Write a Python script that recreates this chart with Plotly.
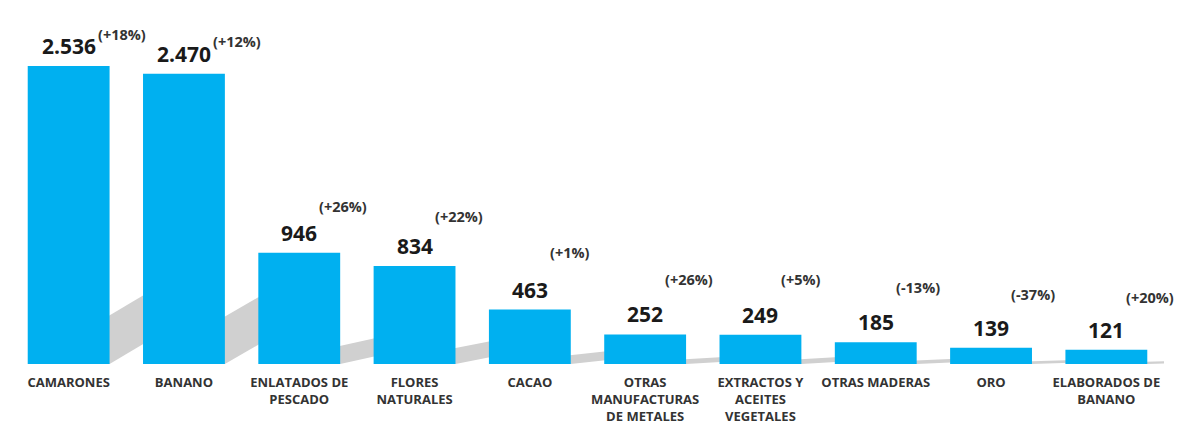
import plotly.graph_objects as go

# ---- data ----
categories = [
    "CAMARONES", "BANANO", "ENLATADOS DE<br>PESCADO", "FLORES<br>NATURALES", "CACAO",
    "OTRAS<br>MANUFACTURAS<br>DE METALES", "EXTRACTOS Y<br>ACEITES<br>VEGETALES",
    "OTRAS MADERAS", "ORO", "ELABORADOS DE<br>BANANO",
]
values = [2536, 2470, 946, 834, 463, 252, 249, 185, 139, 121]
changes = [18, 12, 26, 22, 1, 26, 5, -13, -37, 20]

# ---- styles ----
BAR_COLOR = "#00B0F0"
SHADOW_COLOR = "#d0d0d0"
PCT_RAISE = [32, 32, 46, 50, 57, 55, 55, 55, 53, 52]   # px above bar top
BARGAP = 0.29
SHADOW_K = 0.23

def fmt(v):
    return f"{v:,}".replace(",", ".")

def text_half_width(s):
    w = 0
    for ch in s:
        w += 5.0 if ch == "." else 12.7
    return w / 2

xs = list(range(len(values)))
half = (1 - BARGAP) / 2

fig = go.Figure()
fig.add_trace(go.Bar(
    x=xs, y=values, marker=dict(color=BAR_COLOR, line=dict(width=0)),
    hoverinfo="skip",
))

shapes = []
for i, v in zip(xs, values):
    h = SHADOW_K * v
    path = (f"M {i-half},0 L {i+half},0 L {i+1+half},{h} "
            f"L {i+1-half},{h} Z")
    shapes.append(dict(type="path", path=path, xref="x", yref="y",
                       fillcolor=SHADOW_COLOR, line=dict(width=0), layer="below"))

annotations = []
for i, (v, c, r) in enumerate(zip(values, changes, PCT_RAISE)):
    lab = fmt(v)
    annotations.append(dict(
        x=i, y=v, xref="x", yref="y", text=f"<b>{lab}</b>", showarrow=False,
        xanchor="center", yanchor="middle", yshift=20,
        font=dict(family="Open Sans", size=21, color="#1a1a1a"),
    ))
    sign = "+" if c >= 0 else "-"
    annotations.append(dict(
        x=i, y=v, xref="x", yref="y", text=f"<b>({sign}{abs(c)}%)</b>", showarrow=False,
        xanchor="left", yanchor="middle", yshift=r,
        xshift=text_half_width(lab) - 1,
        font=dict(family="Open Sans", size=14.5, color="#333333"),
    ))

fig.update_layout(
    width=1185, height=425,
    margin=dict(l=11, r=21, t=0, b=61),
    paper_bgcolor="white", plot_bgcolor="white",
    bargap=BARGAP, showlegend=False,
    shapes=shapes, annotations=annotations,
    xaxis=dict(
        range=[-0.5, len(values) - 0.5],
        tickmode="array", tickvals=xs,
        ticktext=[f"<b>{c}</b>" for c in categories],
        tickfont=dict(family="Open Sans", size=13, color="#333333"),
        showgrid=False, zeroline=False, showline=False, ticks="",
        ticklabelstandoff=9,
    ),
    yaxis=dict(range=[0, 3098], visible=False, showgrid=False, zeroline=False),
)

fig.write_html("out.html")
